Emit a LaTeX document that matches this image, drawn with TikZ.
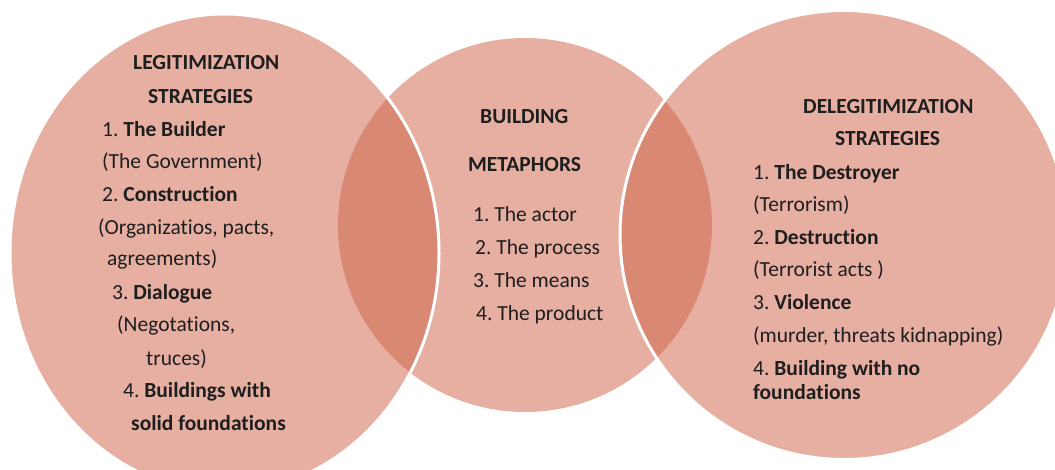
\documentclass[tikz,border=0pt]{standalone}
\usepackage{fontspec}
\setmainfont{Carlito}[Ligatures={NoCommon,NoContextual,NoRequired},Contextuals=NoAlternate]
\definecolor{light}{HTML}{E6AFA2}
\definecolor{dark}{HTML}{D98874}
\definecolor{ink}{HTML}{1E1E1E}
\newcommand\tIx{t\kern0pt i}
\frenchspacing
\begin{document}
\begin{tikzpicture}[x=1pt,y=-1pt,
  txt/.style={anchor=base west, inner sep=0pt, text=ink, font=\fontsize{21.5}{26}\selectfont},
  ring/.style={white, line width=3pt}]
\useasboundingbox (0,0) rectangle (1055,470);
\clip (0,0) rectangle (1055,470);
% circles
\fill[light] (525,225) circle [radius=187pt];
\fill[light] (224.5,253) ellipse [x radius=214.5pt, y radius=239pt];
\fill[light] (844,235) ellipse [x radius=224pt, y radius=224.5pt];
% lenses
\begin{scope}
  \clip (224.5,253) ellipse [x radius=214.5pt, y radius=239pt];
  \fill[dark] (525,225) circle [radius=187pt];
\end{scope}
\begin{scope}
  \clip (844,235) ellipse [x radius=224pt, y radius=224.5pt];
  \fill[dark] (525,225) circle [radius=187pt];
\end{scope}
% white outlines
\draw[ring] (224.5,253) ellipse [x radius=214.5pt, y radius=239pt];
\draw[ring] (844,235) ellipse [x radius=224pt, y radius=224.5pt];
% left texts
\node[txt] (l1) at (133,70) {\textbf{LEGITIMIZATION}};
\node[txt] (l2) at (148,104) {\textbf{STRATEGIES}};
\node[txt] (l3) at (102,137) {1. \textbf{The Builder}};
\node[txt] (l4) at (102,169) {(The Government)};
\node[txt] (l5) at (102,202) {2. \textbf{Construc\tIx{}on}};
\node[txt] (l6) at (98,235) {(Organiza\tIx{}os, pacts,};
\node[txt] (l7) at (107,266) {agreements)};
\node[txt] (l8) at (112,300) {3. \textbf{Dialogue}};
\node[txt] (l9) at (117,332) {(Negota\tIx{}ons,};
\node[txt] (l10) at (146,365) {truces)};
\node[txt] (l11) at (123,397) {4. \textbf{Buildings with}};
\node[txt] (l12) at (131,430) {\textbf{solid founda\tIx{}ons}};
% middle texts
\node[txt] (m1) at (480,124) {\textbf{BUILDING}};
\node[txt] (m2) at (468,172) {\textbf{METAPHORS}};
\node[txt] (m3) at (473,222) {1. The actor};
\node[txt] (m4) at (475,255) {2. The process};
\node[txt] (m5) at (473,288) {3. The means};
\node[txt] (m6) at (476,320) {4. The product};
% right texts
\node[txt] (r1) at (803,114) {\textbf{DELEGITIMIZATION}};
\node[txt] (r2) at (835,146) {\textbf{STRATEGIES}};
\node[txt] (r3) at (753,180) {1. \textbf{The Destroyer}};
\node[txt] (r4) at (753,212) {(Terrorism)};
\node[txt] (r5) at (753,245) {2. \textbf{Destruc\tIx{}on}};
\node[txt] (r6) at (753,277) {(Terrorist acts )};
\node[txt] (r7) at (753,310) {3. \textbf{Violence}};
\node[txt] (r8) at (753,342) {(murder, threats kidnapping)};
\node[txt] (r9) at (753,375) {4. \textbf{Building with no}};
\node[txt] (r10) at (753,399) {\textbf{founda\tIx{}ons}};
\end{tikzpicture}
\end{document}
